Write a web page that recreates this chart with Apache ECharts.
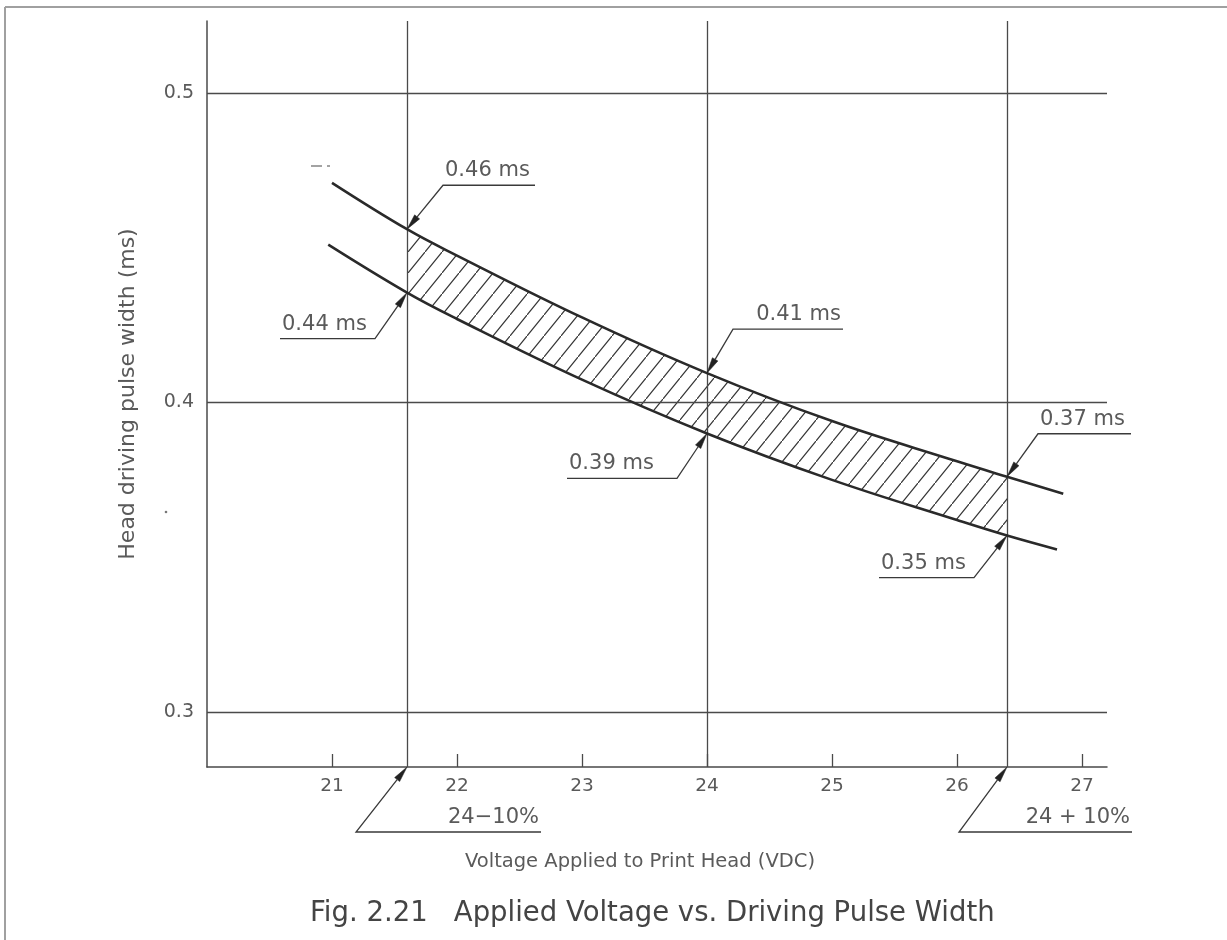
<!DOCTYPE html>
<html><head><meta charset="utf-8">
<script src="https://cdn.jsdelivr.net/npm/echarts@6/dist/echarts.min.js"></script>
<style>html,body{margin:0;padding:0;background:#fff}#c{width:1227px;height:940px}</style>
</head><body><div id="c"></div>
<script>
// ---- data ----
const xTicks = [21, 22, 23, 24, 25, 26, 27];
const yTicks = [0.3, 0.4, 0.5];
const limitVolts = [21.6, 24, 26.4];
const upperX = [21.0, 21.6, 22, 23, 24, 25, 26, 26.4, 26.85];
const upperY = [0.471, 0.456, 0.4475, 0.4275, 0.4095, 0.394, 0.381, 0.376, 0.3705];
const lowerX = [20.97, 21.6, 22, 23, 24, 25, 26, 26.4, 26.8];
const lowerY = [0.451, 0.4355, 0.427, 0.4074, 0.390, 0.375, 0.362, 0.357, 0.3525];
const annoX = [21.6, 21.6, 24, 24, 26.4, 26.4];
const annoCurve = ['upper', 'lower', 'upper', 'lower', 'upper', 'lower'];
const annoText = ['0.46 ms', '0.44 ms', '0.41 ms', '0.39 ms', '0.37 ms', '0.35 ms'];
const voltNoteX = [21.6, 26.4];
const voltNoteText = ['24\u221210%', '24 + 10%'];
const X_MIN = 20, X_MAX = 27.2, Y_MIN = 0.2822, Y_MAX = 0.5233;

// ---- layout / style (pixels) ----
const annoLayout = [
  {kx: 36, ky: -44, len: 92, dir: 1, align: 'left'},
  {kx: -32, ky: 46, len: 95, dir: -1, align: 'left'},
  {kx: 26, ky: -44, len: 110, dir: 1, align: 'right'},
  {kx: -30, ky: 45, len: 110, dir: -1, align: 'left'},
  {kx: 31, ky: -43, len: 93, dir: 1, align: 'left'},
  {kx: -33, ky: 42, len: 95, dir: -1, align: 'left'}
];
const voltLayout = [
  {kx: -51, ky: 65, len: 185, dir: 1, align: 'right'},
  {kx: -48, ky: 65, len: 173, dir: 1, align: 'right'}
];
const FONT = '"DejaVu Sans", "Liberation Sans", sans-serif';
const INK = '#2a2a2a', GRID = '#4a4a4a', TEXT = '#5a5a5a';

function curveValue(which, x) {
  const xs = which === 'upper' ? upperX : lowerX;
  const ys = which === 'upper' ? upperY : lowerY;
  return ys[xs.indexOf(x)];
}

// hatch pattern
const hatch = document.createElement('canvas');
(function () {
  const W = 17, H = 21;
  hatch.width = W; hatch.height = H;
  const ctx = hatch.getContext('2d');
  ctx.strokeStyle = '#333';
  ctx.lineWidth = 1.2;
  ctx.beginPath();
  ctx.moveTo(-W * 0.2, H * 1.2); ctx.lineTo(W * 1.2, -H * 0.2);
  ctx.stroke();
})();

function annoRender(layouts, texts, fontSize) {
  return function (params, api) {
    const i = api.value(2);
    const L = layouts[i];
    const p = api.coord([api.value(0), api.value(1)]);
    const k = [p[0] + L.kx, p[1] + L.ky];
    const e = [k[0] + L.dir * L.len, k[1]];
    const dx = p[0] - k[0], dy = p[1] - k[1], d = Math.hypot(dx, dy);
    const ux = dx / d, uy = dy / d;
    const al = 16, aw = 3.2;
    const b = [p[0] - ux * al, p[1] - uy * al];
    const left = Math.min(k[0], e[0]), right = Math.max(k[0], e[0]);
    return {
      type: 'group',
      children: [
        {type: 'polyline', shape: {points: [e, k, b]}, style: {stroke: '#3a3a3a', lineWidth: 1.3, fill: 'none'}},
        {type: 'polygon', shape: {points: [p, [b[0] - uy * aw, b[1] + ux * aw], [b[0] + uy * aw, b[1] - ux * aw]]},
          style: {fill: '#222', stroke: '#222', lineWidth: 0.5}},
        {type: 'text', x: L.align === 'left' ? left + 2 : right - 2, y: k[1] - 4,
          style: {text: texts[i], align: L.align, verticalAlign: 'bottom', fill: TEXT,
            font: fontSize + 'px ' + FONT}}
      ]
    };
  };
}

const chart = echarts.init(document.getElementById('c'));
chart.setOption({
  animation: false,
  backgroundColor: '#fff',
  title: {
    text: 'Fig. 2.21   Applied Voltage vs. Driving Pulse Width',
    left: 305, top: 895,
    textStyle: {fontFamily: FONT, fontSize: 27.5, fontWeight: 'normal', color: '#444'}
  },
  graphic: [
    {type: 'line', shape: {x1: 5, y1: 7, x2: 1227, y2: 7}, style: {stroke: '#a0a0a0', lineWidth: 2}},
    {type: 'line', shape: {x1: 5, y1: 7, x2: 5, y2: 940}, style: {stroke: '#a0a0a0', lineWidth: 2}},
    {type: 'line', shape: {x1: 311, y1: 166, x2: 322, y2: 166}, style: {stroke: '#666', lineWidth: 1.2}},
    {type: 'line', shape: {x1: 327, y1: 166, x2: 330, y2: 166}, style: {stroke: '#666', lineWidth: 1.2}},
    {type: 'circle', shape: {cx: 166, cy: 512, r: 1.3}, style: {fill: '#777'}}
  ],
  grid: {left: 207, right: 120, top: 21, bottom: 173},
  xAxis: {
    type: 'value', min: X_MIN, max: X_MAX,
    name: 'Voltage Applied to Print Head (VDC)', nameLocation: 'middle', nameGap: 85,
    nameTextStyle: {fontFamily: FONT, fontSize: 19.5, color: TEXT, padding: [0, 34, 0, 0]},
    axisLine: {onZero: false, lineStyle: {color: GRID, width: 1.5}},
    axisTick: {inside: true, length: 13, customValues: xTicks, lineStyle: {color: GRID, width: 1.3}},
    axisLabel: {customValues: xTicks, margin: 10, fontFamily: FONT, fontSize: 18.5, color: TEXT},
    splitLine: {show: false}
  },
  yAxis: {
    type: 'value', min: Y_MIN, max: Y_MAX,
    name: 'Head driving pulse width (ms)', nameLocation: 'middle', nameGap: 68,
    nameTextStyle: {fontFamily: FONT, fontSize: 22, color: TEXT},
    axisLine: {onZero: false, lineStyle: {color: GRID, width: 1.5}},
    axisTick: {show: false},
    axisLabel: {customValues: yTicks, margin: 13, fontFamily: FONT, fontSize: 19, color: TEXT,
      formatter: v => v.toFixed(1)},
    splitLine: {show: false}
  },
  series: [
    {
      type: 'line', name: 'upper', data: upperX.map((x, i) => [x, upperY[i]]),
      smooth: 0.4, symbol: 'none', lineStyle: {color: INK, width: 2.6}, z: 5,
      markLine: {
        silent: true, symbol: 'none', label: {show: false}, animation: false,
        lineStyle: {color: GRID, width: 1.3, type: 'solid'},
        data: yTicks.map(v => ({yAxis: v})).concat(limitVolts.map(v => ({xAxis: v})))
      }
    },
    {
      type: 'line', name: 'lower', data: lowerX.map((x, i) => [x, lowerY[i]]),
      smooth: 0.4, symbol: 'none', lineStyle: {color: INK, width: 2.6}, z: 5
    },
    {
      type: 'custom', name: 'band', z: 3, data: [[limitVolts[0], limitVolts[2]]],
      renderItem: function (params, api) {
        const a = limitVolts[0] - 1e-9, bnd = limitVolts[2] + 1e-9;
        const pts = [];
        upperX.forEach((x, i) => { if (x >= a && x <= bnd) pts.push(api.coord([x, upperY[i]])); });
        for (let i = lowerX.length - 1; i >= 0; i--) {
          const x = lowerX[i];
          if (x >= a && x <= bnd) pts.push(api.coord([x, lowerY[i]]));
        }
        return {type: 'polygon', shape: {points: pts},
          style: {fill: {image: hatch, repeat: 'repeat'}, stroke: 'none'}};
      }
    },
    {
      type: 'custom', name: 'notes', z: 6, clip: false,
      data: annoX.map((x, i) => [x, curveValue(annoCurve[i], x), i]),
      renderItem: annoRender(annoLayout, annoText, 21)
    },
    {
      type: 'custom', name: 'voltNotes', z: 6, clip: false,
      data: voltNoteX.map((x, i) => [x, Y_MIN, i]),
      renderItem: annoRender(voltLayout, voltNoteText, 21)
    }
  ]
});
</script>
</body></html>
